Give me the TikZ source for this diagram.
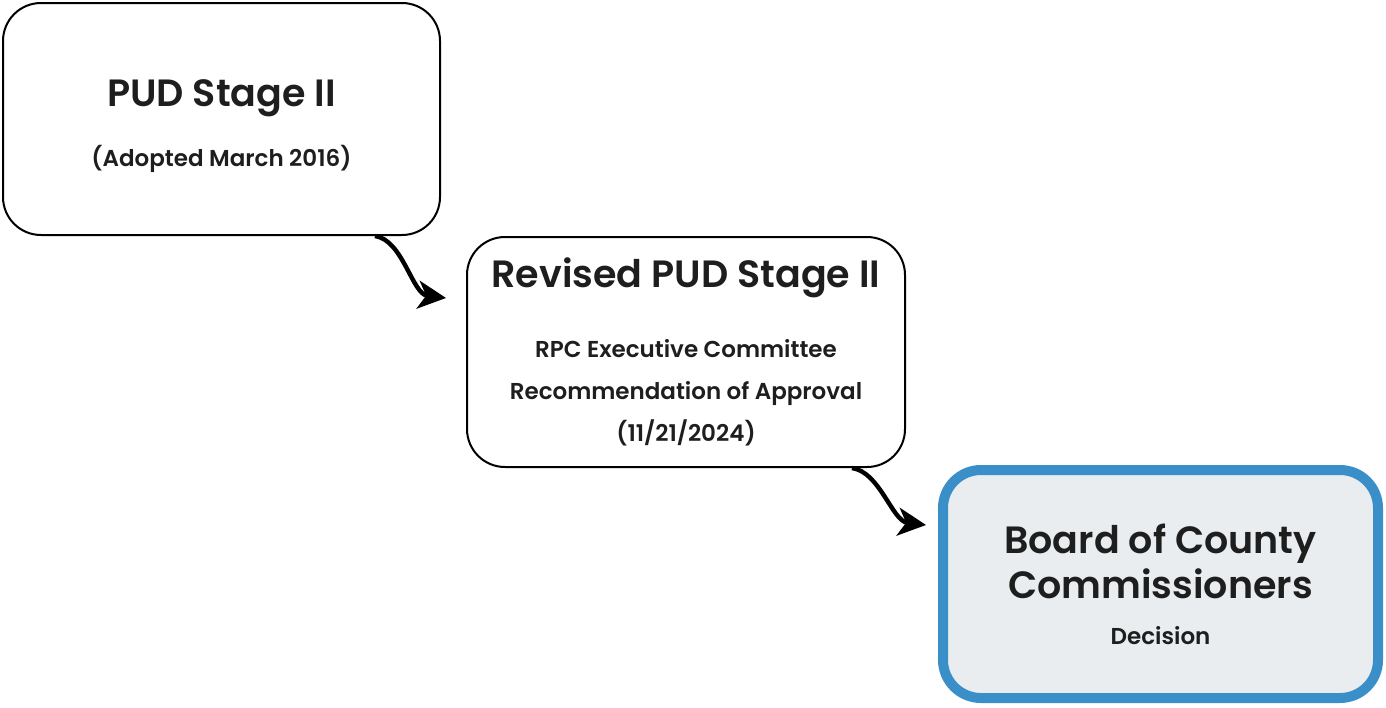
\documentclass[tikz,border=0pt]{standalone}
\usepackage{fontspec}
\setmainfont{Poppins}[BoldFont={Poppins SemiBold}]
\usetikzlibrary{arrows.meta}
\definecolor{boardblue}{HTML}{3A8FC9}
\definecolor{boardfill}{HTML}{E9EDEF}
\definecolor{inkgray}{HTML}{1E1E1E}
\tikzset{
  stagebox/.style={draw=black,line width=1pt,rounded corners=19pt,align=center,inner sep=0pt,
    text=inkgray,font=\smalltxt},
  decisionbox/.style={stagebox,draw=boardblue,line width=5pt,fill=boardfill},
  flowarrow/.style={line width=2.2pt,-{Stealth[length=14pt,width=14pt,inset=4pt]}},
}
\newcommand{\bigtxt}{\fontsize{19}{21}\selectfont\bfseries}
\newcommand{\smalltxt}{\fontsize{11.5}{21}\selectfont\bfseries}
\begin{document}
\begin{tikzpicture}[x=0.5pt,y=-0.5pt]
\useasboundingbox (0,0) rectangle (1386,707);
\node[stagebox,minimum width=218.5pt,minimum height=116pt] (pud) at (221.5,119)
  {\rule{0pt}{21pt}{\bigtxt PUD Stage II}\\[9pt](Adopted March 2016)};
\node[stagebox,minimum width=219pt,minimum height=115pt] (rev) at (686,352)
  {{\bigtxt Revised PUD Stage II}\\[14pt]RPC Executive Committee\\Recommendation of Approval\\(11/21/2024)};
\node[decisionbox,minimum width=217.5pt,minimum height=114pt] (board) at (1160.5,584)
  {{\bigtxt Board of County}\\[1.5pt]{\bigtxt Commissioners}\\[2pt]Decision};
% curved connectors
\draw[flowarrow] ([xshift=-33pt]pud.south east) .. controls +(28,4) and +(-34,-4) .. ([shift={(-10pt,-31pt)}]rev.north west);
\draw[flowarrow] ([xshift=-27pt]rev.south east) .. controls +(28,4) and +(-34,-4) .. ([shift={(-6pt,-30pt)}]board.north west);
\end{tikzpicture}
\end{document}
